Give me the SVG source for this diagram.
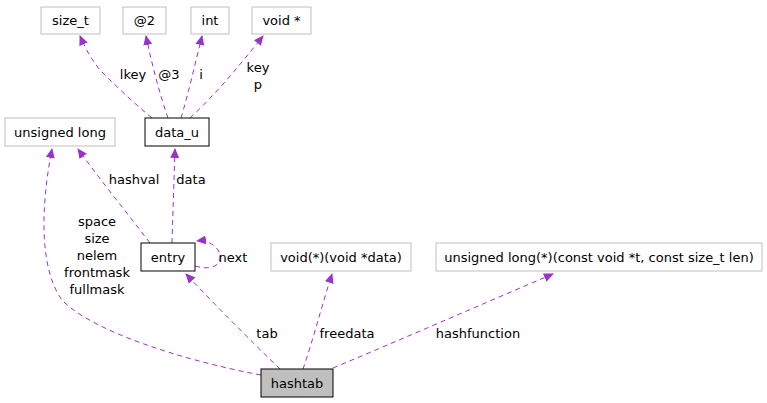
<svg xmlns="http://www.w3.org/2000/svg" width="767" height="403" viewBox="0 0 767 403">
<style>
text{font-family:"DejaVu Sans",sans-serif;font-size:13px;fill:#000;text-anchor:middle}
.n rect{fill:#fff;stroke:#bfbfbf;stroke-width:1}
.b rect{stroke:#000}
.e path{fill:none;stroke:#9a32cd;stroke-dasharray:5,4;stroke-width:1}
</style>
<defs><marker id="a" markerWidth="10" markerHeight="10" refX="9" refY="5" orient="auto" markerUnits="userSpaceOnUse"><path d="M0,0.5 L10,5 L0,9.5z" fill="#9a32cd"/></marker></defs>
<rect width="767" height="403" fill="#fff"/>
<g class="e">
<path d="M152,118 C130,100 110,80 100,70 C92,60 86,50 80,36" marker-end="url(#a)"/>
<path d="M168,118 C160,95 152,65 146,36" marker-end="url(#a)"/>
<path d="M181,118 C188,95 196,60 202,36" marker-end="url(#a)"/>
<path d="M190,118 C215,95 240,65 263,36" marker-end="url(#a)"/>
<path d="M150,243 C125,210 100,180 78,149" marker-end="url(#a)"/>
<path d="M172,243 C173,210 174,180 175,149" marker-end="url(#a)"/>
<path d="M195,266 C215,272 225,262 218,250 C213,243 205,240 197,241" marker-end="url(#a)"/>
<path d="M261,375 C180,360 90,330 62,300 C40,270 40,210 52,149" marker-end="url(#a)"/>
<path d="M280,369 C250,340 215,305 186,274" marker-end="url(#a)"/>
<path d="M303,369 C313,340 322,305 332,274" marker-end="url(#a)"/>
<path d="M333,368 C400,340 480,305 553,274" marker-end="url(#a)"/>
<text x="133" y="79">lkey</text><text x="169" y="79">@3</text><text x="201" y="79">i</text>
<text x="258" y="72">key</text><text x="258" y="89">p</text>
<text x="134" y="184">hashval</text><text x="191" y="184">data</text>
<text x="233" y="262">next</text>
<text x="97" y="226">space</text><text x="97" y="243">size</text><text x="97" y="260">nelem</text><text x="97" y="277">frontmask</text><text x="97" y="294">fullmask</text>
<text x="267" y="338">tab</text><text x="347" y="338">freedata</text><text x="478" y="338">hashfunction</text>
</g>
<g id="size_t" class="n"><rect x="41" y="7" width="59" height="27"/><text x="70.5" y="25">size_t</text></g>
<g id="at2" class="n"><rect x="123" y="7" width="43" height="27"/><text x="144.5" y="25">@2</text></g>
<g id="int" class="n"><rect x="191" y="7" width="38" height="27"/><text x="210" y="25">int</text></g>
<g id="voidp" class="n"><rect x="252" y="7" width="59" height="27"/><text x="281.5" y="25">void *</text></g>
<g id="ulong" class="n"><rect x="5" y="118" width="110" height="28"/><text x="60" y="137">unsigned long</text></g>
<g id="data_u" class="n b"><rect x="145" y="118" width="64" height="28"/><text x="177" y="137">data_u</text></g>
<g id="entry" class="n b"><rect x="141" y="243" width="54" height="28"/><text x="168" y="262">entry</text></g>
<g id="freefn" class="n"><rect x="271" y="243" width="140" height="28"/><text x="341" y="262">void(*)(void *data)</text></g>
<g id="hashfn" class="n"><rect x="436" y="243" width="326" height="28"/><text x="599" y="262">unsigned long(*)(const void *t, const size_t len)</text></g>
<g id="hashtab" class="n b"><rect x="261" y="369" width="72" height="28" style="fill:#bfbfbf"/><text x="297" y="388">hashtab</text></g>
</svg>
